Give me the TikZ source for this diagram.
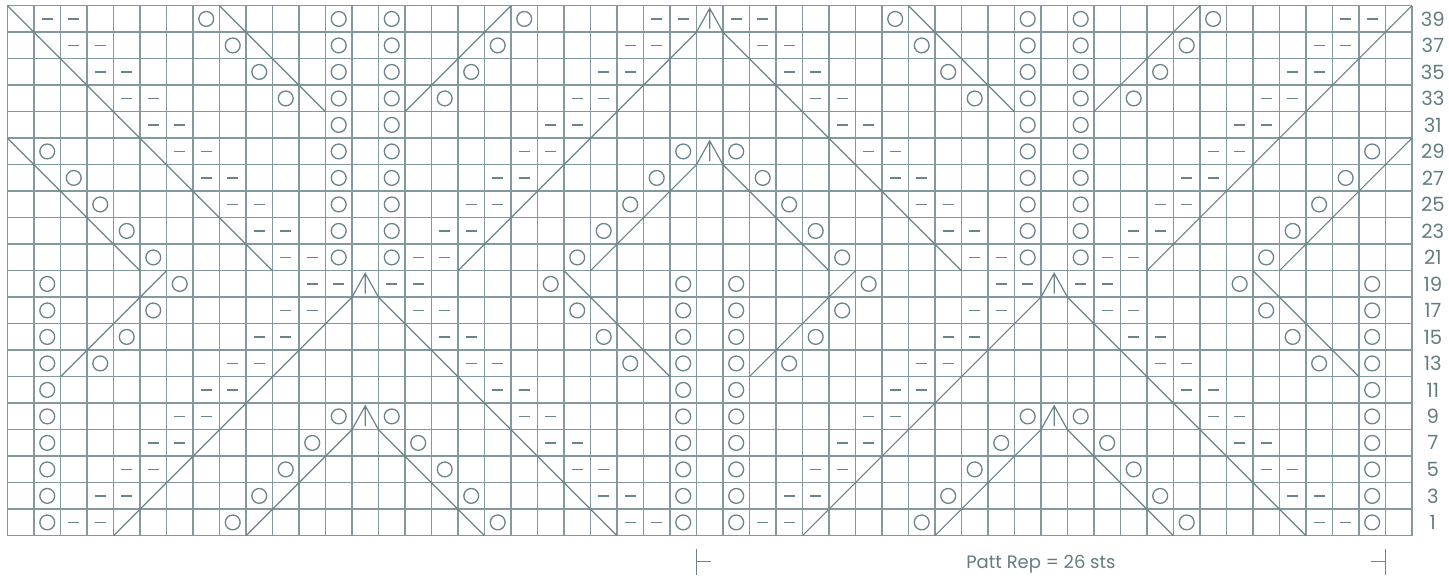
\documentclass[tikz,border=0pt]{standalone}
\usepackage{fontspec}
\setmainfont{Poppins}
\usepackage{tikz}

\definecolor{chartline}{HTML}{83999E}
\definecolor{chartmark}{HTML}{6B8489}
\definecolor{charttext}{HTML}{637C82}

\begin{document}
\begin{tikzpicture}[
    x=13.25pt, y=13.25pt,
    gridlines/.style={draw=chartline, line width=0.75pt},
    sym/.style={draw=chartmark, line width=0.6pt},
    rownum/.style={font=\fontsize{9.8}{10}\selectfont, text=charttext, inner sep=0pt},
    reptext/.style={font=\fontsize{9}{11}\selectfont, text=charttext, inner sep=0pt},
    yo/.pic={\draw[sym, line width=0.65pt] (0.5,0.5) circle (0.28);},
    pp/.pic={\draw[sym, line width=0.9pt] (0.29,0.5) -- (0.71,0.5);},
    kt/.pic={\draw[sym] (0,0) -- (1,1);},
    sk/.pic={\draw[sym] (0,1) -- (1,0);},
    dd/.pic={\draw[sym] (0,0) -- (0.5,0.9) -- (1,0) (0.5,0.9) -- (0.5,0.13);},
  ]
  \useasboundingbox[fill=white] (-0.283,-1.747) rectangle (54.40,20.215);

  % Grid
  \draw[gridlines, step=13.25pt] (0,0) grid (53,20);

  % Symbols, one 26-st repeat per row, drawn twice
  \foreach \y/\cells in {
      19/{1/pp,2/pp,7/yo,8/sk,12/yo,14/yo,18/kt,19/yo,24/pp,25/pp},
      18/{1/sk,2/pp,3/pp,8/yo,9/sk,12/yo,14/yo,17/kt,18/yo,23/pp,24/pp,25/kt},
      17/{2/sk,3/pp,4/pp,9/yo,10/sk,12/yo,14/yo,16/kt,17/yo,22/pp,23/pp,24/kt},
      16/{3/sk,4/pp,5/pp,10/yo,11/sk,12/yo,14/yo,15/kt,16/yo,21/pp,22/pp,23/kt},
      15/{4/sk,5/pp,6/pp,12/yo,14/yo,20/pp,21/pp,22/kt},
      14/{1/yo,5/sk,6/pp,7/pp,12/yo,14/yo,19/pp,20/pp,21/kt,25/yo},
      13/{1/sk,2/yo,6/sk,7/pp,8/pp,12/yo,14/yo,18/pp,19/pp,20/kt,24/yo,25/kt},
      12/{2/sk,3/yo,7/sk,8/pp,9/pp,12/yo,14/yo,17/pp,18/pp,19/kt,23/yo,24/kt},
      11/{3/sk,4/yo,8/sk,9/pp,10/pp,12/yo,14/yo,16/pp,17/pp,18/kt,22/yo,23/kt},
      10/{4/sk,5/yo,9/sk,10/pp,11/pp,12/yo,14/yo,15/pp,16/pp,17/kt,21/yo,22/kt},
      9/{1/yo,5/kt,6/yo,11/pp,12/pp,13/dd,14/pp,15/pp,20/yo,21/sk,25/yo},
      8/{1/yo,4/kt,5/yo,10/pp,11/pp,12/kt,14/sk,15/pp,16/pp,21/yo,22/sk,25/yo},
      7/{1/yo,3/kt,4/yo,9/pp,10/pp,11/kt,15/sk,16/pp,17/pp,22/yo,23/sk,25/yo},
      6/{1/yo,2/kt,3/yo,8/pp,9/pp,10/kt,16/sk,17/pp,18/pp,23/yo,24/sk,25/yo},
      5/{1/yo,7/pp,8/pp,9/kt,17/sk,18/pp,19/pp,25/yo},
      4/{1/yo,6/pp,7/pp,8/kt,12/yo,13/dd,14/yo,18/sk,19/pp,20/pp,25/yo},
      3/{1/yo,5/pp,6/pp,7/kt,11/yo,12/kt,14/sk,15/yo,19/sk,20/pp,21/pp,25/yo},
      2/{1/yo,4/pp,5/pp,6/kt,10/yo,11/kt,15/sk,16/yo,20/sk,21/pp,22/pp,25/yo},
      1/{1/yo,3/pp,4/pp,5/kt,9/yo,10/kt,16/sk,17/yo,21/sk,22/pp,23/pp,25/yo},
      0/{1/yo,2/pp,3/pp,4/kt,8/yo,9/kt,17/sk,18/yo,22/sk,23/pp,24/pp,25/yo}}
  {
    \foreach \r/\s in \cells {
      \foreach \k in {0,26} {
        \edef\tmp{\noexpand\pic at ({\r+\k},\y) {\s};}\tmp
      }
    }
  }

  % Centre decreases at the repeat edges
  \foreach \y in {19,14} {
    \pic at (0,\y) {sk};
    \pic at (26,\y) {dd};
    \pic at (52,\y) {kt};
  }

  % Row numbers
  \foreach \i in {0,...,19} {
    \pgfmathtruncatemacro\rw{2*\i+1}
    \node[rownum] (row\rw) at (53.79,\i+0.5) {\rw};
  }

  % Repeat
  \draw[sym] (26,-0.5) -- (26,-1.48) (26,-0.99) -- ++(0.53,0);
  \draw[sym] (52,-0.5) -- (52,-1.48) (52,-0.99) -- ++(-0.53,0);
  \node[reptext] (rep) at (39,-1.07) {Patt Rep = 26 sts};
\end{tikzpicture}
\end{document}
